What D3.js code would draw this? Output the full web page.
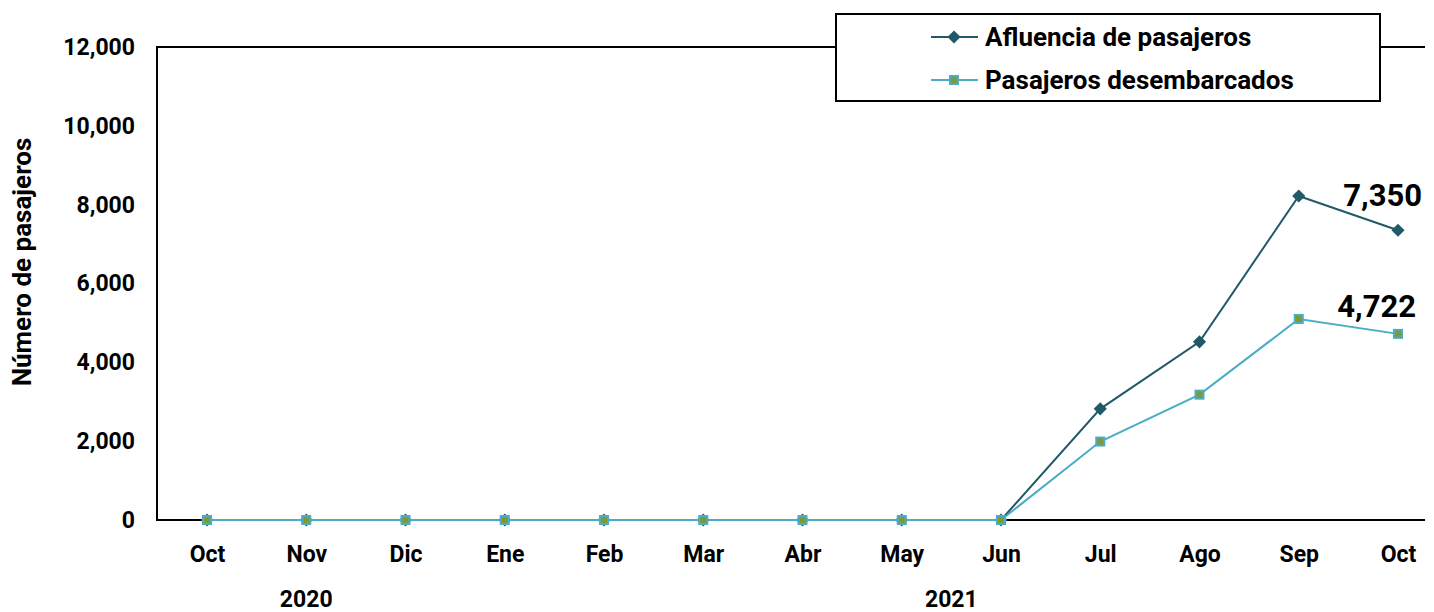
<!DOCTYPE html>
<html>
<head>
<meta charset="utf-8">
<script src="https://cdn.jsdelivr.net/npm/d3@7"></script>
<style>
	body { margin: 0; background: #fff; }
	text { font-family: Roboto, "DejaVu Sans", sans-serif; font-weight: bold; fill: #000; }
</style>
</head>
<body>
<svg id="chart"></svg>
<script>
(function(){

	// data
	var months = ["Oct", "Nov", "Dic", "Ene", "Feb", "Mar", "Abr", "May", "Jun", "Jul", "Ago", "Sep", "Oct"];
	var afluencia = [0, 0, 0, 0, 0, 0, 0, 0, 0, 2820, 4520, 8220, 7350];
	var desembarcados = [0, 0, 0, 0, 0, 0, 0, 0, 0, 1990, 3180, 5100, 4722];
	var yTicks = [0, 2000, 4000, 6000, 8000, 10000, 12000];
	var years = [{label: "2020", at: 1}, {label: "2021", at: 7.5}];
	var seriesNames = ["Afluencia de pasajeros", "Pasajeros desembarcados"];

	//SVG config
	var svgWidth = 1434, svgHeight = 612;
	var left = 157, top = 47, bottom = 520, right = 1425;
	var darkTeal = "#215968", lightBlue = "#4bacc6", olive = "#7f9a35";
	var fmt = d3.format(",");

	var svg = d3.select("#chart")
		.attr("width", svgWidth)
		.attr("height", svgHeight);

	var x = d3.scalePoint()
		.domain(d3.range(months.length))
		.range([207, 1398]);

	var y = d3.scaleLinear()
		.domain([0, 12000])
		.range([bottom, top]);

	//frame: left, top and bottom lines
	svg.append("path")
		.attr("d", "M" + right + "," + top + "H" + left + "V" + bottom + "H" + right)
		.attr("fill", "none")
		.attr("stroke", "#000")
		.attr("stroke-width", 2);

	//y axis labels
	var gy = svg.append("g")
		.attr("transform", "translate(" + left + ",0)")
		.call(d3.axisLeft(y).tickValues(yTicks).tickSize(0).tickPadding(22).tickFormat(fmt));
	gy.select(".domain").remove();
	gy.selectAll("text").attr("font-size", 23).style("font-family", null);

	//x axis labels
	var gx = svg.append("g")
		.attr("transform", "translate(0," + bottom + ")")
		.call(d3.axisBottom(x).tickSize(0).tickPadding(26).tickFormat(function(i){ return months[i]; }));
	gx.select(".domain").remove();
	gx.selectAll("text").attr("font-size", 23).style("font-family", null);

	//year labels
	svg.selectAll(".year")
		.data(years)
		.enter()
		.append("text")
		.attr("class", "year")
		.attr("x", function(d){ return x(Math.floor(d.at)) + (d.at % 1) * x.step(); })
		.attr("y", 607)
		.attr("text-anchor", "middle")
		.attr("font-size", 23)
		.text(function(d){ return d.label; });

	//axis title
	svg.append("text")
		.attr("transform", "translate(31,262) rotate(-90)")
		.attr("text-anchor", "middle")
		.attr("font-size", 26)
		.text("Número de pasajeros");

	var line = d3.line()
		.x(function(d, i){ return x(i); })
		.y(function(d){ return y(d); });

	var diamond = d3.symbol().type(d3.symbolDiamond2).size(110);

	//Afluencia series
	svg.append("path")
		.datum(afluencia)
		.attr("d", line)
		.attr("fill", "none")
		.attr("stroke", darkTeal)
		.attr("stroke-width", 2);
	svg.selectAll(".afl")
		.data(afluencia)
		.enter()
		.append("path")
		.attr("class", "afl")
		.attr("transform", function(d, i){ return "translate(" + x(i) + "," + y(d) + ")"; })
		.attr("d", diamond)
		.attr("fill", darkTeal);

	//Desembarcados series
	svg.append("path")
		.datum(desembarcados)
		.attr("d", line)
		.attr("fill", "none")
		.attr("stroke", lightBlue)
		.attr("stroke-width", 2);
	svg.selectAll(".des")
		.data(desembarcados)
		.enter()
		.append("rect")
		.attr("class", "des")
		.attr("x", function(d, i){ return x(i) - 4; })
		.attr("y", function(d){ return y(d) - 4; })
		.attr("width", 8)
		.attr("height", 8)
		.attr("fill", olive)
		.attr("stroke", lightBlue)
		.attr("stroke-width", 2);

	//end value labels
	var last = months.length - 1;
	svg.append("text")
		.attr("x", x(last) + 24)
		.attr("y", y(afluencia[last]) - 24)
		.attr("text-anchor", "end")
		.attr("font-size", 31)
		.text(fmt(afluencia[last]));
	svg.append("text")
		.attr("x", x(last) + 18)
		.attr("y", y(desembarcados[last]) - 17)
		.attr("text-anchor", "end")
		.attr("font-size", 31)
		.text(fmt(desembarcados[last]));

	//legend
	var legend = svg.append("g").attr("transform", "translate(836,14)");
	legend.append("rect")
		.attr("width", 544)
		.attr("height", 87)
		.attr("fill", "#fff")
		.attr("stroke", "#000")
		.attr("stroke-width", 2);
	var items = legend.selectAll(".item")
		.data(seriesNames)
		.enter()
		.append("g")
		.attr("transform", function(d, i){ return "translate(0," + (23 + i * 43) + ")"; });
	items.append("line")
		.attr("x1", 95).attr("x2", 142)
		.attr("stroke", function(d, i){ return i == 0 ? darkTeal : lightBlue; })
		.attr("stroke-width", 2);
	items.filter(function(d, i){ return i == 0; })
		.append("path")
		.attr("transform", "translate(118,0)")
		.attr("d", diamond)
		.attr("fill", darkTeal);
	items.filter(function(d, i){ return i == 1; })
		.append("rect")
		.attr("x", 114).attr("y", -4)
		.attr("width", 8).attr("height", 8)
		.attr("fill", olive)
		.attr("stroke", lightBlue)
		.attr("stroke-width", 2);
	items.append("text")
		.attr("x", 149)
		.attr("dy", "0.35em")
		.attr("font-size", 26)
		.text(function(d){ return d; });

})();
</script>
</body>
</html>
